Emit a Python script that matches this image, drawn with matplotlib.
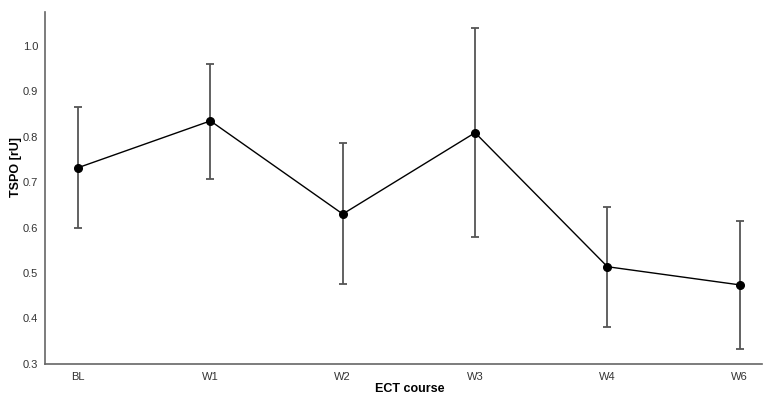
import matplotlib.pyplot as plt
import numpy as np

plt.rcParams['font.family'] = ['Liberation Sans', 'DejaVu Sans']

# TSPO signal over the ECT course (mean with lower / upper error bounds)
weeks = ['BL', 'W1', 'W2', 'W3', 'W4', 'W6']
tspo_mean = [0.732, 0.835, 0.630, 0.809, 0.514, 0.474]
tspo_low = [0.600, 0.707, 0.476, 0.580, 0.381, 0.333]
tspo_high = [0.866, 0.961, 0.787, 1.040, 0.646, 0.615]

x = np.arange(len(weeks))
mean = np.array(tspo_mean)
yerr = [mean - np.array(tspo_low), np.array(tspo_high) - mean]

fig = plt.figure(figsize=(7.63, 3.96), dpi=100)
ax = fig.add_axes([0.059, 0.081, 0.94, 0.889])

ax.errorbar(x, mean, yerr=yerr, fmt='none', ecolor='#555555',
            elinewidth=1.3, capsize=3.2, capthick=1.3, zorder=2)
ax.plot(x, mean, color='black', linewidth=1.0, zorder=3)
ax.plot(x, mean, 'o', color='black', markersize=5.5, zorder=4)

ax.set_xlim(-0.25, 5.17)
ax.set_ylim(0.3, 1.075)
ax.set_xticks(x)
ax.set_xticklabels(weeks)
ax.set_yticks(np.arange(0.3, 1.01, 0.1))
ax.set_yticklabels(['%.1f' % v for v in np.arange(0.3, 1.01, 0.1)])
ax.tick_params(length=0, labelsize=8, labelcolor='#333333')
ax.tick_params(axis='x', pad=6)
ax.tick_params(axis='y', pad=5)

for side in ['top', 'right']:
    ax.spines[side].set_visible(False)
for side in ['left', 'bottom']:
    ax.spines[side].set_color('#666666')
    ax.spines[side].set_linewidth(1.2)

ax.set_xlabel('ECT course', fontsize=9, fontweight='bold')
ax.set_ylabel('TSPO [rU]', fontsize=9, fontweight='bold')
ax.xaxis.set_label_coords(0.509, -0.071)
ax.yaxis.set_label_coords(-0.041, 0.56)
ax.xaxis.label.set_va('center')
ax.yaxis.label.set_va('center')

fig.savefig('out.png', dpi=100)
